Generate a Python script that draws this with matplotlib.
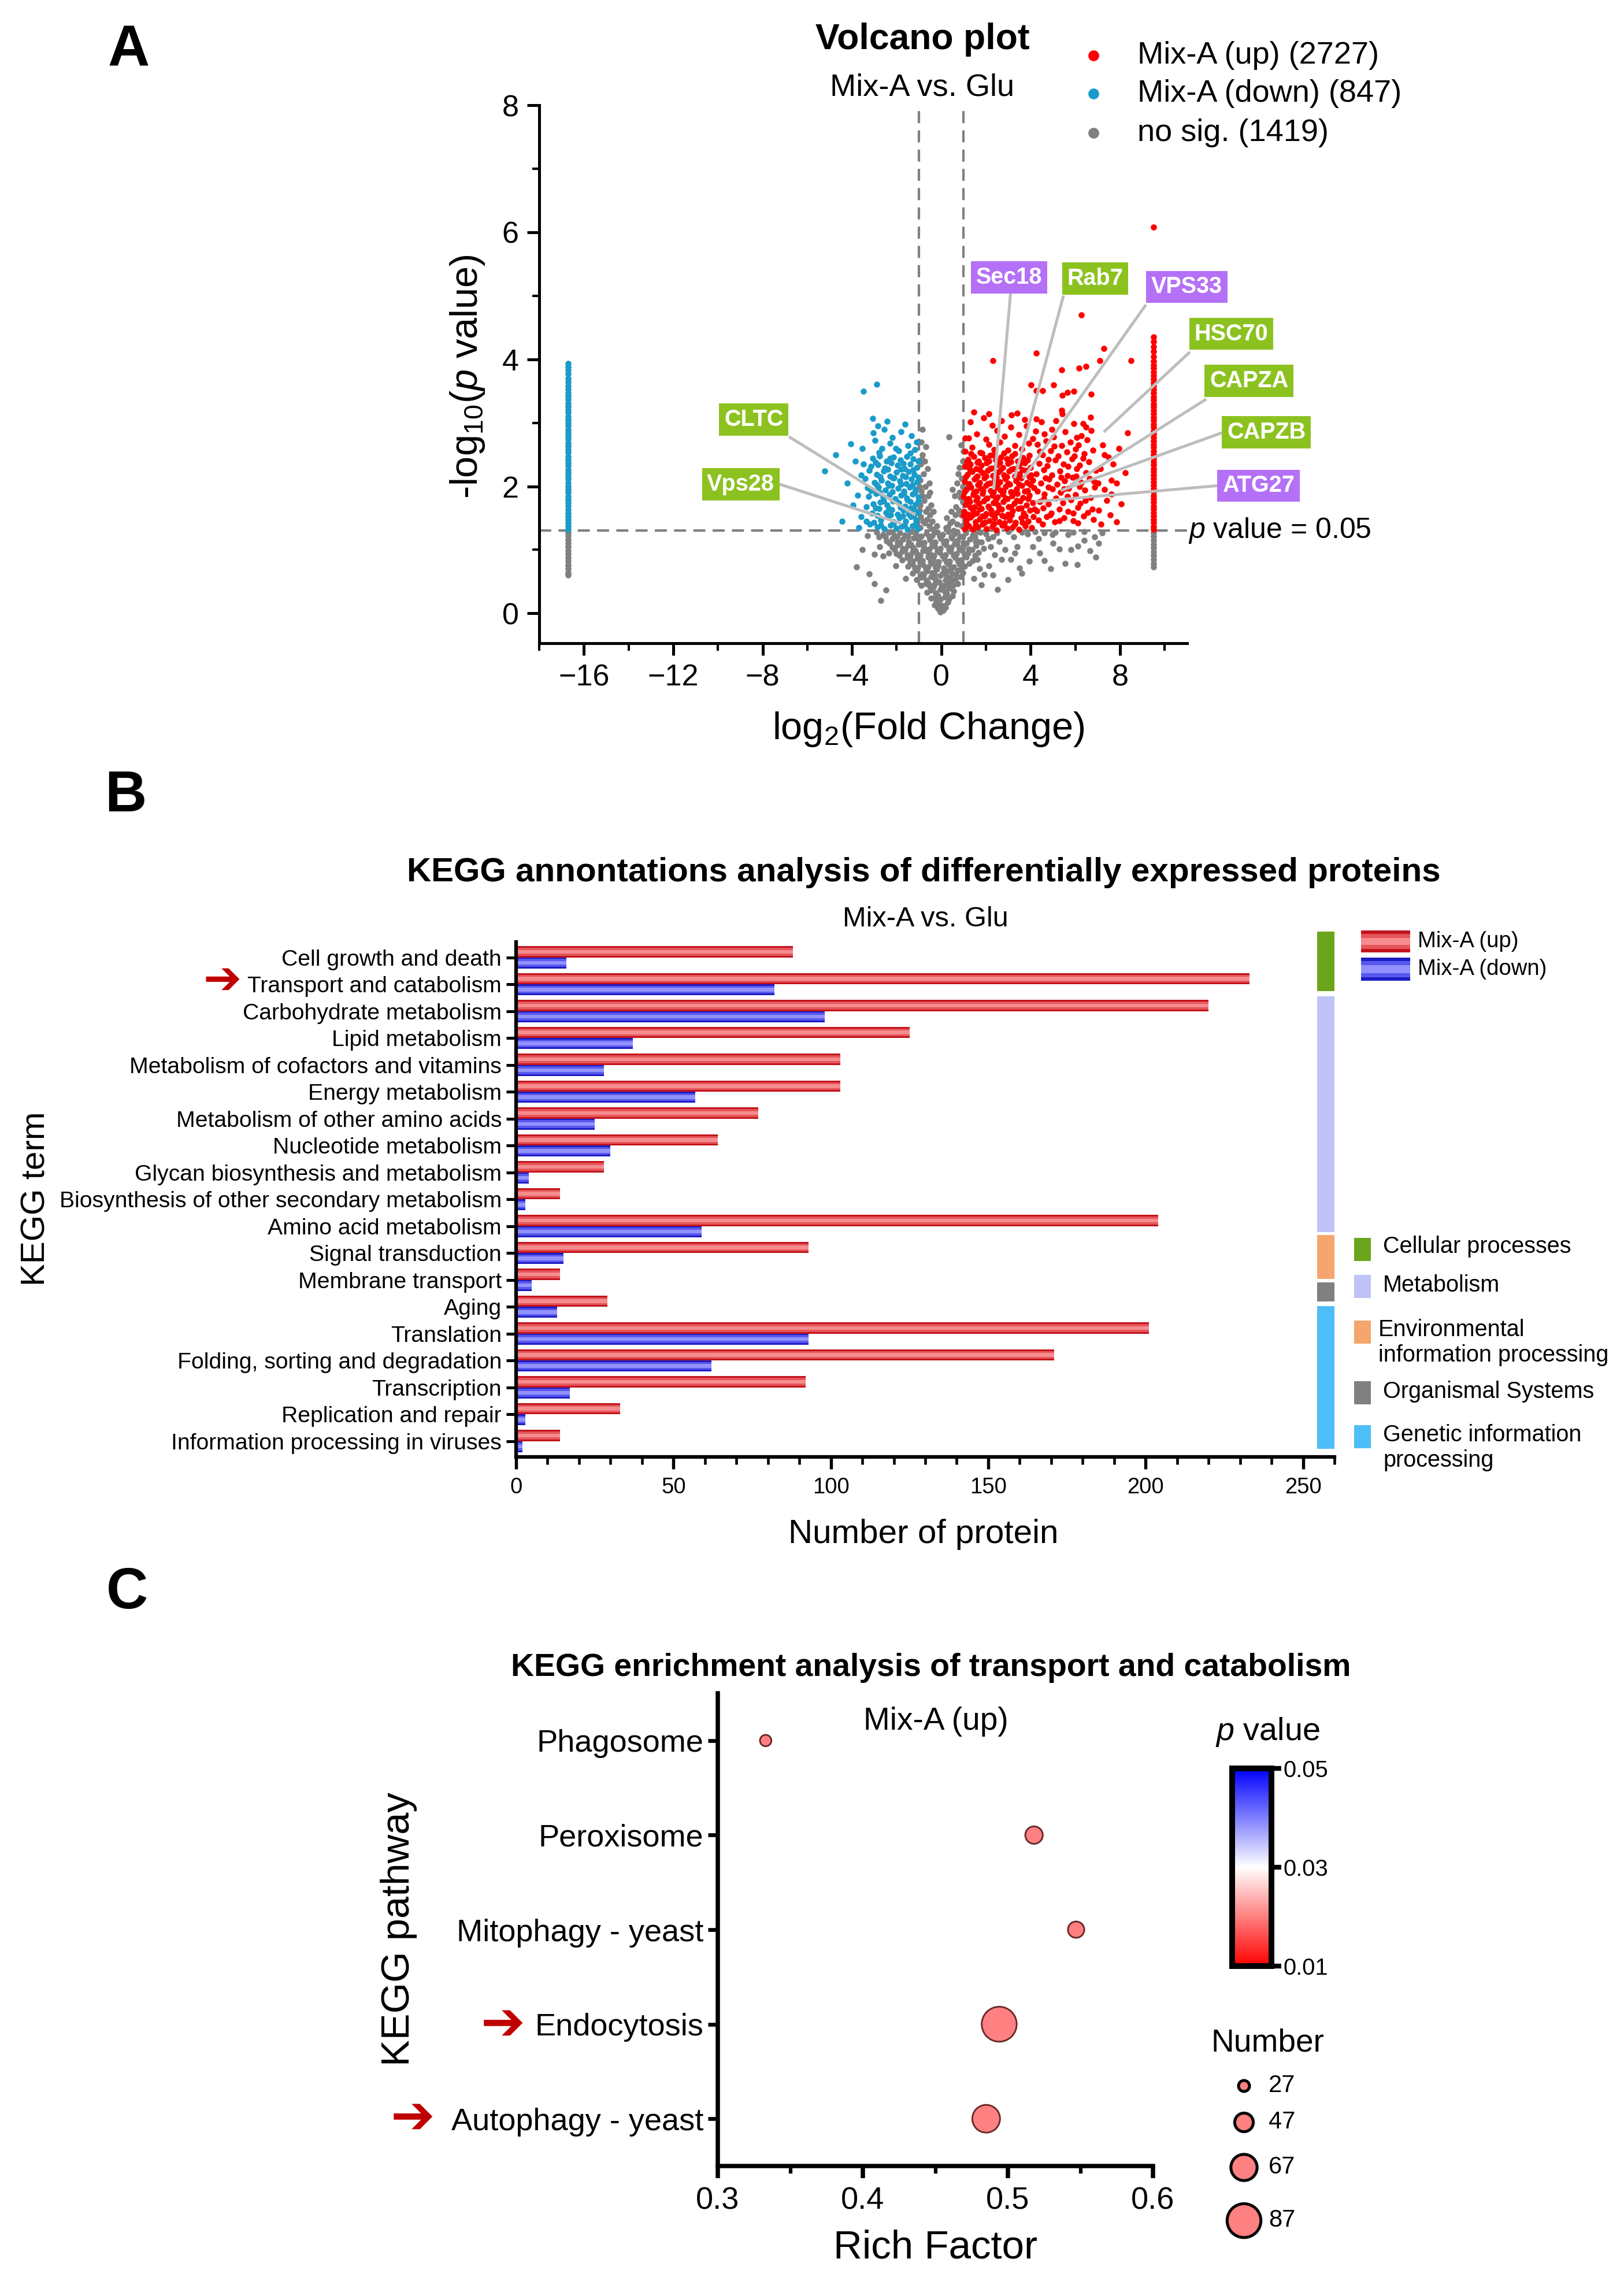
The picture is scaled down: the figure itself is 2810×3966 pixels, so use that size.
import numpy as np
import matplotlib
matplotlib.use('Agg')
import matplotlib.pyplot as plt
from matplotlib.colors import LinearSegmentedColormap, Normalize
from matplotlib.cm import ScalarMappable
from matplotlib.lines import Line2D
from matplotlib.patches import Rectangle
from matplotlib.ticker import MultipleLocator

plt.rcParams['font.family'] = ['Liberation Sans', 'DejaVu Sans']
plt.rcParams['mathtext.fontset'] = 'custom'
plt.rcParams['mathtext.rm'] = 'Liberation Sans'
plt.rcParams['mathtext.it'] = 'Liberation Sans:italic'

# ---------------- data: volcano (A) ----------------
n_up, n_down, n_ns = 2727, 847, 1419
fc_cut, p_cut = 1.0, 0.05

red_core = [(1.04,1.33),(1.22,1.38),(1.41,1.32),(1.63,1.36),(1.85,1.40),(2.02,1.33),(2.27,1.37),(2.46,1.31),(2.71,1.39),(2.93,1.34),(3.18,1.36),(3.47,1.32),(3.76,1.38),(4.05,1.35),
    (1.11,1.47),(1.30,1.51),(1.52,1.44),(1.71,1.49),(1.94,1.53),(2.15,1.46),(2.38,1.50),(2.60,1.44),(2.84,1.52),(3.05,1.47),(3.31,1.43),(3.58,1.50),(3.88,1.45),(4.12,1.52),
    (1.02,1.60),(1.19,1.56),(1.39,1.63),(1.58,1.58),(1.80,1.65),(2.01,1.57),(2.22,1.62),(2.49,1.59),(2.69,1.64),(2.97,1.56),(3.20,1.61),(3.44,1.65),(3.69,1.58),(3.97,1.62),
    (1.08,1.71),(1.27,1.76),(1.47,1.68),(1.69,1.73),(1.90,1.77),(2.11,1.69),(2.33,1.74),(2.55,1.70),(2.78,1.76),(3.01,1.68),(3.26,1.73),(3.53,1.77),(3.80,1.70),(4.08,1.74),
    (1.00,1.84),(1.21,1.80),(1.43,1.87),(1.62,1.82),(1.84,1.89),(2.06,1.81),(2.29,1.86),(2.51,1.83),(2.74,1.88),(2.96,1.80),(3.16,1.85),(3.40,1.89),(3.65,1.82),(3.93,1.86),
    (1.13,1.95),(1.33,1.99),(1.55,1.92),(1.76,1.97),(1.99,2.01),(2.20,1.93),(2.42,1.98),(2.65,1.94),(2.88,2.00),(3.10,1.91),(3.36,1.96),(3.61,2.01),(3.86,1.93),(4.15,1.98),
    (1.05,2.08),(1.26,2.04),(1.49,2.11),(1.72,2.06),(1.93,2.13),(2.17,2.05),(2.39,2.10),(2.62,2.07),(2.86,2.12),(3.07,2.03),(3.33,2.09),(3.57,2.13),(3.84,2.06),(4.10,2.10),
    (1.16,2.19),(1.37,2.23),(1.60,2.16),(1.83,2.21),(2.08,2.25),(2.31,2.17),(2.53,2.22),(2.80,2.18),(3.02,2.24),(3.28,2.16),(3.51,2.20),(3.77,2.25),(4.02,2.18),
    (1.07,2.31),(1.31,2.35),(1.56,2.28),(1.78,2.33),(2.03,2.37),(2.26,2.29),(2.49,2.34),(2.75,2.30),(2.99,2.36),(3.23,2.28),(3.48,2.32),(3.73,2.37),(3.99,2.30),
    (1.19,2.42),(1.45,2.47),(1.67,2.40),(1.95,2.45),(2.19,2.49),(2.44,2.41),(2.68,2.46),(2.92,2.43),(3.15,2.48),(3.42,2.40),(3.66,2.45),(3.94,2.49)]
red_core_fill = [(1.13,1.41),(1.52,1.39),(1.95,1.43),(2.36,1.41),(2.82,1.42),(3.30,1.40),(3.62,1.43),
    (1.00,1.54),(1.41,1.55),(1.83,1.53),(2.26,1.56),(2.72,1.54),(3.14,1.55),(3.76,1.53),
    (1.29,1.67),(1.70,1.64),(2.12,1.67),(2.58,1.65),(3.10,1.68),(3.57,1.66),(4.18,1.64),
    (1.15,1.79),(1.56,1.78),(1.99,1.80),(2.44,1.79),(2.88,1.81),(3.38,1.78),(3.88,1.80),
    (1.04,1.91),(1.45,1.90),(1.87,1.93),(2.33,1.91),(2.78,1.92),(3.25,1.90),(3.74,1.92),
    (1.22,2.03),(1.64,2.02),(2.08,2.04),(2.52,2.02),(2.97,2.05),(3.47,2.03),(3.98,2.02),
    (1.10,2.15),(1.55,2.14),(2.01,2.16),(2.47,2.14),(2.93,2.15),(3.42,2.14),(3.93,2.15),
    (1.27,2.27),(1.71,2.26),(2.17,2.28),(2.64,2.26),(3.13,2.27),(3.62,2.26),
    (1.14,2.39),(1.62,2.38),(2.12,2.40),(2.61,2.38),(3.10,2.39),(3.59,2.38),(3.86,2.41),
    (1.33,2.51),(1.82,2.52),(2.31,2.50),(2.80,2.52),(3.28,2.51)]
red_mid = [(4.35,1.47),(4.71,1.52),(5.08,1.44),(5.49,1.50),(5.90,1.46),(6.36,1.53),(6.80,1.48),
    (4.27,1.61),(4.55,1.66),(4.92,1.58),(5.27,1.64),(5.66,1.60),(6.10,1.67),(6.55,1.59),
    (4.40,1.76),(4.78,1.72),(5.12,1.81),(5.45,1.74),(5.81,1.79),(6.22,1.73),(6.68,1.82),
    (4.30,1.92),(4.62,1.88),(4.97,1.96),(5.33,1.90),(5.70,1.97),(6.01,1.87),(6.43,1.94),(6.85,1.99),
    (4.45,2.05),(4.83,2.11),(5.17,2.03),(5.52,2.09),(5.88,2.14),(6.26,2.06),(6.62,2.12),
    (4.25,2.20),(4.58,2.26),(4.94,2.18),(5.30,2.24),(5.64,2.17),(6.05,2.28),(6.47,2.21),(6.90,2.25),
    (4.38,2.36),(4.75,2.32),(5.10,2.41),(5.47,2.35),(5.85,2.43),(6.18,2.33),(6.59,2.39),
    (4.52,2.50),(4.89,2.56),(5.24,2.48),(5.62,2.54),(6.00,2.59),(6.40,2.51),(6.78,2.57),
    (4.31,2.66),(4.68,2.71),(5.39,2.64),(5.78,2.70),(6.14,2.65),(6.52,2.73),
    (4.60,2.82),(5.03,2.78),(5.55,2.86),(6.27,2.80),(6.71,2.88),
    (4.52,1.40),(5.29,1.46),(6.12,1.42),(4.88,1.55),(5.90,1.58),(6.75,1.64),(4.59,1.80),(5.64,1.84),(6.44,1.78),(4.80,1.99),
    (5.50,1.96),(6.20,2.00),(4.65,2.13),(5.36,2.14),(6.04,2.16),(6.83,2.08),(4.78,2.42),(5.68,2.31),(6.35,2.44),(4.40,2.55),
    (5.05,2.63),(5.95,2.48),(4.95,2.90),(6.05,2.77),(4.22,2.87),(4.48,3.01),(3.72,3.05),(5.12,3.03),(6.48,2.93),(7.85,2.05),
    (7.30,2.50),(8.05,1.72),(7.62,1.88)]
red_sparse = [(1.06,2.55),(1.38,2.61),(1.74,2.53),(2.12,2.66),(2.36,2.58),(2.63,2.70),(2.97,2.57),(3.29,2.64),(3.60,2.59),(3.91,2.68),
    (1.22,2.76),(1.58,2.82),(2.01,2.74),(2.48,2.88),(2.83,2.79),(3.12,2.93),(3.48,2.81),(3.82,2.95),(4.08,2.75),(1.31,3.01),
    (1.89,3.08),(2.70,3.03),(3.40,3.15),(1.06,2.76),(2.29,2.96),
    (7.05,1.62),(7.31,1.95),(7.12,2.28),(7.48,2.46),(7.22,2.65),(7.60,2.10),(7.40,1.78),(7.85,1.44),(7.70,2.35),(8.24,2.21),
    (7.02,2.05),(7.55,1.55),(8.34,2.84),(7.95,2.60),(7.15,1.40),
    (6.26,4.70),(2.31,3.98),(4.24,4.10),(7.28,4.17),(8.49,3.98),(7.10,3.98),(6.46,3.89),(6.17,3.86),(5.38,3.83),(4.01,3.60),
    (5.02,3.60),(4.24,3.51),(4.54,3.51),(5.42,3.43),(5.64,3.48),(5.94,3.50),(6.71,3.45),(1.46,3.17),(2.13,3.14),(3.14,3.12),
    (5.38,3.20),(5.42,3.14),(4.24,3.06),(6.68,3.09),(5.92,2.99),(6.34,2.99)]
red_stripe_x = 9.5
red_stripe_y = [1.32,1.37,1.43,1.48,1.53,1.59,1.64,1.69,1.75,1.80,1.85,1.91,1.96,2.01,2.07,2.12,2.18,2.23,2.28,2.34,2.39,2.44,
    2.50,2.55,2.61,2.66,2.71,2.77,2.82,2.87,2.93,2.98,3.04,3.09,3.14,3.20,3.25,3.30,3.36,3.41,3.47,3.52,3.58,3.63,3.69,3.74,
    3.80,3.86,3.91,3.97,4.04,4.12,4.20,4.28,4.35,6.08]

blue_core = [(-1.05,1.33),(-1.28,1.38),(-1.52,1.32),(-1.77,1.37),(-2.01,1.34),(-2.26,1.39),(-2.55,1.33),(-2.86,1.36),(-3.20,1.40),
    (-1.12,1.47),(-1.36,1.52),(-1.61,1.45),(-1.88,1.50),(-2.13,1.44),(-2.40,1.51),(-2.70,1.47),(-3.02,1.43),
    (-1.02,1.59),(-1.24,1.64),(-1.47,1.57),(-1.70,1.62),(-1.96,1.56),(-2.21,1.63),(-2.48,1.59),(-2.79,1.65),(-3.11,1.58),
    (-1.15,1.71),(-1.40,1.76),(-1.63,1.69),(-1.90,1.74),(-2.16,1.77),(-2.43,1.70),(-2.73,1.75),(-3.05,1.72),(-3.36,1.68),
    (-1.04,1.83),(-1.30,1.88),(-1.55,1.81),(-1.80,1.86),(-2.07,1.80),(-2.33,1.87),(-2.62,1.83),(-2.93,1.89),(-3.25,1.84),
    (-1.17,1.95),(-1.43,1.99),(-1.68,1.92),(-1.94,1.97),(-2.21,2.01),(-2.50,1.94),(-2.81,1.99),(-3.14,1.93),
    (-1.08,2.07),(-1.34,2.11),(-1.58,2.04),(-1.85,2.09),(-2.12,2.13),(-2.39,2.05),(-2.68,2.10),(-3.00,2.06),(-3.42,2.12),
    (-1.21,2.19),(-1.47,2.23),(-1.74,2.17),(-2.02,2.22),(-2.29,2.16),(-2.58,2.24),(-2.90,2.19),(-3.23,2.25),
    (-1.10,2.30),(-1.38,2.35),(-1.66,2.28),(-1.95,2.33),(-2.24,2.37),(-2.53,2.29),(-2.84,2.34),(-3.16,2.31),
    (-1.25,2.43),(-1.54,2.47),(-1.83,2.41),(-2.14,2.46),(-2.44,2.40),(-2.75,2.48),(-3.08,2.44),
    (-1.16,1.40),(-1.64,1.39),(-2.14,1.41),(-2.70,1.39),(-3.35,1.45),(-1.24,1.54),(-1.74,1.53),(-2.27,1.55),(-2.86,1.54),
    (-1.36,1.66),(-1.84,1.67),(-2.35,1.65),(-2.95,1.66),(-1.02,1.77),(-1.52,1.79),(-2.03,1.78),(-2.58,1.77),(-1.18,1.90),
    (-1.68,1.89),(-2.20,1.91),(-2.77,1.90),(-1.30,2.02),(-1.81,2.03),(-2.35,2.01),(-2.90,2.02),(-1.04,2.14),(-1.60,2.15),
    (-2.16,2.13),(-2.73,2.15),(-1.25,2.26),(-1.80,2.27),(-2.40,2.27),(-1.02,2.40),(-1.70,2.36),(-2.30,2.44),(-2.95,2.38),
    (-1.40,2.52),(-2.05,2.60),(-2.80,2.53),(-3.30,1.98),(-3.50,2.35)]
blue_sparse = [(-1.18,2.58),(-1.50,2.64),(-1.92,2.56),(-2.30,2.68),(-2.66,2.60),(-2.98,2.72),(-1.35,2.80),(-1.80,2.86),(-2.20,2.77),(-2.55,2.90),
    (-3.05,2.84),(-1.62,2.98),(-2.42,3.02),(-2.85,2.95),(-3.07,3.07),(-1.10,2.70),
    (-3.60,1.52),(-3.75,1.86),(-3.58,2.18),(-3.85,2.40),(-3.70,1.35),(-4.06,2.67),(-4.44,1.45),(-4.72,2.50),(-5.23,2.24),(-3.95,1.70),
    (-4.20,2.05),(-3.55,2.60),(-2.88,3.61),(-3.50,3.50)]
blue_stripe_x = -16.7
blue_stripe_y = [1.32,1.37,1.42,1.48,1.53,1.58,1.63,1.69,1.74,1.79,1.84,1.90,1.95,2.00,2.05,2.11,2.16,2.21,2.26,2.32,2.37,2.42,
    2.47,2.53,2.58,2.63,2.68,2.74,2.79,2.84,2.89,2.95,3.00,3.05,3.10,3.16,3.21,3.26,3.31,3.37,3.42,3.47,3.52,3.58,3.64,3.70,
    3.77,3.83,3.88,3.93]

grey_v = [(-0.05,0.02),(0.08,0.05),(-0.15,0.08),(0.18,0.09),
    (-0.30,0.13),(-0.10,0.16),(0.12,0.12),(0.30,0.18),(-0.22,0.19),
    (-0.45,0.24),(-0.25,0.27),(-0.05,0.22),(0.15,0.26),(0.35,0.23),(0.50,0.28),
    (-0.65,0.33),(-0.45,0.37),(-0.25,0.32),(-0.05,0.38),(0.15,0.34),(0.35,0.39),(0.55,0.35),
    (-0.90,0.44),(-0.70,0.47),(-0.50,0.42),(-0.30,0.46),(-0.10,0.49),(0.12,0.43),(0.32,0.48),(0.52,0.44),(0.72,0.47),
    (-1.10,0.53),(-0.90,0.57),(-0.68,0.52),(-0.47,0.58),(-0.27,0.54),(-0.05,0.59),(0.18,0.52),(0.40,0.56),(0.62,0.53),(0.85,0.58),
    (-1.30,0.63),(-1.08,0.68),(-0.86,0.62),(-0.64,0.67),(-0.42,0.64),(-0.20,0.69),(0.05,0.63),(0.27,0.67),(0.50,0.62),(0.72,0.68),(0.95,0.64),
    (-1.50,0.74),(-1.28,0.78),(-1.05,0.72),(-0.82,0.77),(-0.60,0.73),(-0.38,0.79),(-0.15,0.75),(0.10,0.71),(0.33,0.77),(0.56,0.73),(0.80,0.78),(1.05,0.74),
    (-1.75,0.84),(-1.52,0.88),(-1.30,0.82),(-1.07,0.87),(-0.84,0.83),(-0.60,0.89),(-0.36,0.85),(-0.12,0.81),(0.14,0.86),(0.38,0.82),(0.62,0.88),(0.86,0.84),(1.12,0.89),(1.40,0.83),
    (-2.00,0.94),(-1.76,0.98),(-1.53,0.92),(-1.30,0.97),(-1.07,0.93),(-0.83,0.99),(-0.58,0.95),(-0.33,0.91),(-0.08,0.96),(0.18,0.92),(0.43,0.98),(0.68,0.94),(0.93,0.99),(1.20,0.95),(1.50,0.91),
    (-2.20,1.04),(-1.97,1.08),(-1.73,1.02),(-1.50,1.07),(-1.27,1.03),(-1.03,1.09),(-0.79,1.05),(-0.55,1.01),(-0.30,1.06),(-0.05,1.02),(0.20,1.08),(0.45,1.04),(0.70,1.09),(0.95,1.05),(1.22,1.01),(1.55,1.07),
    (-2.45,1.14),(-2.20,1.18),(-1.96,1.12),(-1.72,1.17),(-1.48,1.13),(-1.24,1.19),(-1.00,1.15),(-0.76,1.11),(-0.52,1.16),(-0.28,1.12),(-0.03,1.18),(0.22,1.14),(0.48,1.19),(0.74,1.15),(1.00,1.11),(1.28,1.17),(1.62,1.13),
    (-2.60,1.24),(-2.35,1.28),(-2.10,1.22),(-1.86,1.27),(-1.62,1.23),(-1.38,1.29),(-1.14,1.25),(-0.90,1.21),(-0.66,1.26),(-0.42,1.22),(-0.18,1.28),(0.07,1.24),(0.32,1.29),(0.58,1.25),(0.84,1.21),(1.10,1.27),(1.40,1.23),(1.75,1.28),
    (0.00,0.11),(-0.15,0.28),(0.25,0.31),(-0.35,0.41),(0.00,0.44),(0.42,0.51),(-0.58,0.48),(-0.80,0.60),(-0.30,0.61),(0.20,0.60),
    (0.65,0.61),(-1.18,0.71),(-0.70,0.70),(-0.25,0.72),(0.45,0.70),(0.92,0.71),(-1.40,0.80),(-0.95,0.80),(-0.48,0.81),(0.25,0.80),
    (0.75,0.81),(1.25,0.79),(-1.88,0.91),(-1.40,0.90),(-0.95,0.91),(-0.45,0.92),(0.05,0.90),(0.55,0.91),(1.05,0.92),(1.65,0.96),
    (-2.10,1.00),(-1.62,1.00),(-1.15,0.99),(-0.67,1.00),(-0.18,0.99),(0.33,1.00),(0.82,1.01),(1.38,1.00),(-2.33,1.10),(-1.85,1.10),
    (-1.36,1.09),(-0.88,1.10),(-0.40,1.09),(0.10,1.10),(0.60,1.10),(1.12,1.10),(1.80,1.12),(-2.50,1.20),(-1.98,1.20),(-1.50,1.21),
    (-1.02,1.20),(-0.54,1.20),(-0.06,1.21),(0.45,1.20),(0.96,1.20),(1.50,1.20),(2.10,1.18),(-2.20,1.28),(-1.25,1.29),(-0.30,1.28),
    (0.70,1.29),(1.60,1.29),(2.50,1.27)]
grey_arms = [(-0.95,1.35),(-0.75,1.42),(-0.55,1.38),(-0.92,1.52),(-0.70,1.60),(-0.50,1.55),(-0.96,1.70),(-0.78,1.78),(-0.60,1.85),(-0.90,1.92),
    (-0.72,2.00),(-0.95,2.10),(-0.80,2.20),(-0.62,2.28),(-0.93,2.35),(-0.85,2.50),(-0.70,2.62),(-0.84,2.90),(-0.40,1.45),(-0.35,1.32),
    (-0.45,1.70),(-0.98,1.62),(-0.88,2.42),(-0.65,1.48),(-0.97,2.00),(-0.55,2.05),
    (0.30,1.36),(0.50,1.45),(0.70,1.40),(0.90,1.38),(0.45,1.60),(0.65,1.68),(0.88,1.55),(0.60,1.85),(0.82,1.90),(0.95,1.75),
    (0.70,2.05),(0.90,2.12),(0.80,2.30),(0.95,2.40),(0.35,2.78),(0.98,2.55),(0.25,1.50),(0.55,1.30),(0.78,1.62),(0.96,2.00),
    (-0.82,1.45),(-0.60,1.65),(-0.85,1.85),(-0.50,1.90),(-0.75,2.40),(-0.90,2.70),(-0.35,1.60),(0.40,1.42),(0.62,1.55),(0.85,1.82),
    (0.50,1.95),(0.75,2.20),(0.88,2.65),(0.20,1.35),(-0.20,1.38)]
grey_sparse = [(-3.53,1.00),(-3.79,0.73),(-3.00,0.47),(-2.72,0.20),(-2.49,0.37),(-3.22,0.62),(-3.00,0.93),(-2.80,1.20),(-3.30,1.22),(-2.60,0.90),
    (2.51,0.38),(2.97,0.53),(1.93,0.61),(5.53,0.79),(6.09,0.77),(6.91,0.89),(7.04,1.10),(6.65,0.99),(4.62,0.83),(3.93,0.82),
    (3.50,0.71),(3.59,0.63),(5.27,1.01),(5.66,1.24),(4.97,1.24),(4.36,1.18),(3.85,1.25),(3.24,1.20),(2.85,1.00),(2.38,0.92),
    (2.12,0.75),(1.60,0.85),(1.52,1.13),(2.60,1.13),(6.87,1.20),(6.12,1.06),(2.00,1.25),(4.10,1.05),(3.10,0.85),(1.80,0.45),
    (2.30,1.20),(1.90,1.02),(5.90,1.28),(4.60,1.27),(3.40,1.05),
    (-2.90,1.28),(3.00,1.29),(3.60,1.28),(4.20,1.29),(5.10,1.28),(6.40,1.29),(7.20,1.27),(2.20,1.05),(2.70,0.85),(3.30,0.95),
    (4.40,0.95),(5.00,1.10),(5.80,1.00),(6.40,1.15),(1.70,0.70),(2.30,0.60),(4.90,0.70),(1.45,0.55),(-1.60,0.55),(-2.05,0.75),
    (-2.35,0.95),(-2.75,1.05)]
grey_stripe_left_y = [1.27,1.22,1.16,1.10,1.05,0.99,0.93,0.88,0.82,0.76,0.70,0.64,0.60]
grey_stripe_right_y = [1.27,1.21,1.15,1.09,1.03,0.97,0.91,0.85,0.79,0.73]

# labelled proteins: name, box colour, box centre, line start, highlighted point
box_green, box_purple = '#8CC220', '#B470F6'
protein_labels = [
    ('Sec18', box_purple, (3.04, 5.29), (3.09, 5.01), (2.35, 1.97)),
    ('Rab7', box_green, (6.89, 5.27), (5.45, 4.98), (3.30, 2.15)),
    ('VPS33', box_purple, (10.99, 5.14), (9.12, 4.84), (3.69, 2.14)),
    ('HSC70', box_green, (12.97, 4.40), (11.08, 4.10), (7.32, 2.87)),
    ('CAPZA', box_green, (13.77, 3.66), (11.80, 3.36), (5.82, 2.03)),
    ('CAPZB', box_green, (14.55, 2.85), (12.54, 2.84), (5.40, 1.94)),
    ('ATG27', box_purple, (14.20, 2.01), (12.36, 2.01), (4.26, 1.76)),
    ('CLTC', box_green, (-8.40, 3.05), (-6.77, 2.77), (-1.22, 1.56)),
    ('Vps28', box_green, (-8.98, 2.03), (-7.21, 2.03), (-1.85, 1.42)),
]

# ---------------- data: KEGG annotation (B) ----------------
terms = ['Cell growth and death', 'Transport and catabolism', 'Carbohydrate metabolism', 'Lipid metabolism',
         'Metabolism of cofactors and vitamins', 'Energy metabolism', 'Metabolism of other amino acids',
         'Nucleotide metabolism', 'Glycan biosynthesis and metabolism', 'Biosynthesis of other secondary metabolism',
         'Amino acid metabolism', 'Signal transduction', 'Membrane transport', 'Aging', 'Translation',
         'Folding, sorting and degradation', 'Transcription', 'Replication and repair', 'Information processing in viruses']
up_counts = [88, 233, 220, 125, 103, 103, 77, 64, 28, 14, 204, 93, 14, 29, 201, 171, 92, 33, 14]
down_counts = [16, 82, 98, 37, 28, 57, 25, 30, 4, 3, 59, 15, 5, 13, 93, 62, 17, 3, 2]
groups = ['Cellular processes', 'Metabolism', 'Environmental\ninformation processing', 'Organismal Systems',
          'Genetic information\nprocessing']
group_colors = ['#6AA51C', '#BEC3F8', '#F4A66C', '#808080', '#4DBEF8']
group_spans = [(-0.96, 1.25), (1.45, 10.22), (10.33, 11.97), (12.10, 12.80), (12.97, 18.28)]

# ---------------- data: KEGG enrichment (C) ----------------
pathways = ['Phagosome', 'Peroxisome', 'Mitophagy - yeast', 'Endocytosis', 'Autophagy - yeast']
rich_factor = [0.333, 0.518, 0.547, 0.494, 0.485]
path_counts = [28, 44, 41, 90, 71]
path_p = [0.020, 0.020, 0.020, 0.020, 0.020]
size_legend = [27, 47, 67, 87]

# ---------------- figure ----------------
W, H, DPI = 2810, 3966, 300
fig = plt.figure(figsize=(W / DPI, H / DPI), dpi=DPI)

def fx(px):
    return px / W

def fy(py):
    return 1 - py / H

def box(x0, y0, x1, y1):
    return [fx(x0), fy(y1), (x1 - x0) / W, (y1 - y0) / H]

def style_axes(ax, lw):
    for s in ('top', 'right'):
        ax.spines[s].set_visible(False)
    for s in ('left', 'bottom'):
        ax.spines[s].set_linewidth(lw)

red_arrow = '#C00000'

# ===== A: volcano =====
axA = fig.add_axes(box(933, 182, 2054, 1113))
style_axes(axA, 1.2)
ms = 6.5
g = np.array(grey_v + grey_arms + grey_sparse)
axA.scatter(g[:, 0], g[:, 1], s=ms, c='#808080', lw=0, zorder=2)
axA.scatter([blue_stripe_x] * len(grey_stripe_left_y), grey_stripe_left_y, s=ms, c='#808080', lw=0, zorder=2)
axA.scatter([red_stripe_x] * len(grey_stripe_right_y), grey_stripe_right_y, s=ms, c='#808080', lw=0, zorder=2)
b = np.array(blue_core + blue_sparse)
axA.scatter(b[:, 0], b[:, 1], s=ms, c='#1A9BC9', lw=0, zorder=3)
axA.scatter([blue_stripe_x] * len(blue_stripe_y), blue_stripe_y, s=ms, c='#1A9BC9', lw=0, zorder=3)
r = np.array(red_core + red_core_fill + red_mid + red_sparse)
axA.scatter(r[:, 0], r[:, 1], s=ms, c='#FF0000', lw=0, zorder=3)
axA.scatter([red_stripe_x] * len(red_stripe_y), red_stripe_y, s=ms, c='#FF0000', lw=0, zorder=3)

dash = (0, (5, 3))
axA.axvline(-fc_cut, color='#7F7F7F', ls=dash, lw=1.0, zorder=1)
axA.axvline(fc_cut, color='#7F7F7F', ls=dash, lw=1.0, zorder=1)
axA.axhline(-np.log10(p_cut), color='#7F7F7F', ls=dash, lw=1.0, zorder=1)
axA.text(11.05, -np.log10(p_cut), r'$\it{p}$ value = 0.05', fontsize=12, va='center', ha='left')

axA.set_xlim(-18, 11)
axA.set_ylim(-0.47, 8)
axA.set_xticks([-16, -12, -8, -4, 0, 4, 8])
axA.set_yticks([0, 2, 4, 6, 8])
axA.xaxis.set_minor_locator(MultipleLocator(2))
axA.yaxis.set_minor_locator(MultipleLocator(1))
axA.tick_params(which='major', length=5, width=1.2, labelsize=12.5)
axA.tick_params(which='minor', length=3, width=1.0)

for name, col, (bx, by), (lx, ly), (tx, ty) in protein_labels:
    axA.plot([lx, tx], [ly, ty], color='#BDBDBD', lw=1.2, zorder=4, clip_on=False)
    axA.text(bx, by, name, color='white', fontsize=9.5, fontweight='bold', ha='center', va='center', zorder=5,
             bbox=dict(boxstyle='square,pad=0.22', fc=col, ec='none'))

fig.text(fx(223), fy(89), 'A', fontsize=24, fontweight='bold', ha='center', va='center')
fig.text(fx(1596), fy(68), 'Volcano plot', fontsize=15, fontweight='bold', ha='center', va='center')
fig.text(fx(1596), fy(152), 'Mix-A vs. Glu', fontsize=13, ha='center', va='center')
fig.text(fx(809), fy(652), r'-log$_{10}$($\it{p}$ value)', fontsize=16, rotation=90, ha='center', va='center')
fig.text(fx(1606), fy(1262), r'log$_{2}$(Fold Change)', fontsize=16, ha='center', va='center')
for yy, col, lab in [(96, '#FF0000', f'Mix-A (up) ({n_up})'), (162, '#1A9BC9', f'Mix-A (down) ({n_down})'),
                     (230, '#808080', f'no sig. ({n_ns})')]:
    fig.add_artist(Line2D([fx(1892)], [fy(yy)], marker='o', ms=4.5, mfc=col, mec='none', ls='none',
                          transform=fig.transFigure))
    fig.text(fx(1968), fy(yy), lab, fontsize=13, ha='left', va='center')

# ===== B: KEGG annotation bars =====
red_shades = ['#C2141C', '#E6555A', '#F58C8E']
blue_shades = ['#1C1CC4', '#5858EE', '#9292FF']

def glossy_barh(ax, y, w, h, shades):
    for frac, col in zip((1.0, 0.7, 0.34), shades):
        ax.barh(y, w, height=h * frac, color=col, lw=0, zorder=2)

axB = fig.add_axes(box(893, 1630, 2309, 2521))
style_axes(axB, 1.5)
bh = 0.41
for i, (u, d) in enumerate(zip(up_counts, down_counts)):
    glossy_barh(axB, i - bh / 2, u, bh, red_shades)
    glossy_barh(axB, i + bh / 2, d, bh, blue_shades)
for (y0, y1), col in zip(group_spans, group_colors):
    axB.add_patch(Rectangle((254.5, y0), 5.5, y1 - y0, color=col, lw=0, clip_on=False, zorder=2))
axB.set_xlim(0, 260)
axB.set_ylim(18.59, -0.57)
axB.set_yticks(range(len(terms)))
axB.set_yticklabels(terms)
axB.set_xticks([0, 50, 100, 150, 200, 250])
axB.xaxis.set_minor_locator(MultipleLocator(10))
axB.tick_params(axis='y', length=4, width=1.2, labelsize=9.4, pad=2)
axB.tick_params(axis='x', which='major', length=5, width=1.3, labelsize=9.2)
axB.tick_params(axis='x', which='minor', length=3, width=1.1)

fig.text(fx(217), fy(1378), 'B', fontsize=24, fontweight='bold', ha='center', va='center')
fig.text(fx(1598), fy(1510), 'KEGG annontations analysis of differentially expressed proteins', fontsize=14,
         fontweight='bold', ha='center', va='center')
fig.text(fx(1601), fy(1591), 'Mix-A vs. Glu', fontsize=11.7, ha='center', va='center')
fig.text(fx(63), fy(2074), 'KEGG term', fontsize=14, rotation=90, ha='center', va='center')
fig.text(fx(1598), fy(2655), 'Number of protein', fontsize=14, ha='center', va='center')
fig.text(fx(385), fy(1697), '\u2794', fontsize=19, color=red_arrow, ha='center', va='center', family=['DejaVu Sans'])

def glossy_patch(x0, y0, x1, y1, shades):
    yc, hh = (y0 + y1) / 2, (y1 - y0)
    for frac, col in zip((1.0, 0.7, 0.34), shades):
        h2 = hh * frac
        fig.add_artist(Rectangle((fx(x0), fy(yc + h2 / 2)), (x1 - x0) / W, h2 / H, color=col, lw=0,
                                 transform=fig.transFigure))

glossy_patch(2355, 1610, 2440, 1648, red_shades)
glossy_patch(2355, 1657, 2440, 1697, blue_shades)
fig.text(fx(2453), fy(1629), 'Mix-A (up)', fontsize=9.2, ha='left', va='center')
fig.text(fx(2453), fy(1677), 'Mix-A (down)', fontsize=9.2, ha='left', va='center')

sq_y = [2162, 2226, 2305, 2410, 2486]
txt_y = [2157, 2224, 2323, 2408, 2505]
txt_x = [2393, 2393, 2385, 2393, 2393]
for lab, col, sy, ty, tx in zip(groups, group_colors, sq_y, txt_y, txt_x):
    fig.add_artist(Rectangle((fx(2343), fy(sy + 20)), 29 / W, 40 / H, color=col, lw=0, transform=fig.transFigure))
    fig.text(fx(tx), fy(ty), lab, fontsize=9.5, ha='left', va='center', linespacing=1.2)

# ===== C: KEGG enrichment bubbles =====
cmap = LinearSegmentedColormap.from_list('rwb', ['#FF0000', '#FFFFFF', '#0000FF'])
norm = Normalize(0.01, 0.05)

def bubble_pt(n):
    return 0.3 + 0.158 * n

axC = fig.add_axes(box(1242, 2930, 1995, 3748))
style_axes(axC, 1.8)
ypos = np.arange(len(pathways))[::-1]
axC.scatter(rich_factor, ypos, s=[bubble_pt(n) ** 2 for n in path_counts], c=path_p, cmap=cmap, norm=norm,
            edgecolors='#6A2A2A', linewidths=0.7, zorder=3)
axC.set_xlim(0.3, 0.6)
axC.set_ylim(-0.5, 4.5)
axC.set_xticks([0.3, 0.4, 0.5, 0.6])
axC.set_xticklabels(['0.3', '0.4', '0.5', '0.6'])
axC.xaxis.set_minor_locator(MultipleLocator(0.05))
axC.set_yticks(ypos)
axC.set_yticklabels(pathways)
axC.tick_params(axis='y', length=4, width=1.6, labelsize=13, pad=2)
axC.tick_params(axis='x', which='major', length=5, width=1.8, labelsize=13)
axC.tick_params(axis='x', which='minor', length=3, width=1.5)

fig.text(fx(220), fy(2757), 'C', fontsize=24, fontweight='bold', ha='center', va='center')
fig.text(fx(1611), fy(2886), 'KEGG enrichment analysis of transport and catabolism', fontsize=13.3,
         fontweight='bold', ha='center', va='center')
fig.text(fx(1619), fy(2979), 'Mix-A (up)', fontsize=13.2, ha='center', va='center')
fig.text(fx(690), fy(3338), 'KEGG pathway', fontsize=16.5, rotation=90, ha='center', va='center')
fig.text(fx(1619), fy(3890), 'Rich Factor', fontsize=16.6, ha='center', va='center')
fig.text(fx(870), fy(3503), '\u2794', fontsize=22, color=red_arrow, ha='center', va='center', family=['DejaVu Sans'])
fig.text(fx(714), fy(3665), '\u2794', fontsize=22, color=red_arrow, ha='center', va='center', family=['DejaVu Sans'])

cax = fig.add_axes(box(2132, 3060, 2200, 3402))
cb = fig.colorbar(ScalarMappable(norm=norm, cmap=cmap), cax=cax)
cb.set_ticks([0.01, 0.03, 0.05])
cb.set_ticklabels(['0.01', '0.03', '0.05'])
cb.outline.set_linewidth(2.4)
cax.tick_params(length=4, width=2, labelsize=9.6, pad=1)
fig.text(fx(2193), fy(2997), r'$\it{p}$ value', fontsize=13.4, ha='center', va='center')
fig.text(fx(2193), fy(3535), 'Number', fontsize=13.2, ha='center', va='center')
for n, yy in zip(size_legend, [3609, 3672, 3750, 3842]):
    fig.add_artist(Line2D([fx(2152)], [fy(yy)], marker='o', ms=bubble_pt(n), mfc=cmap(norm(0.02)), mec='black',
                          mew=1.2, ls='none', transform=fig.transFigure))
    fig.text(fx(2195), fy(yy), str(n), fontsize=10, ha='left', va='center')

fig.savefig('out.png', dpi=DPI)
